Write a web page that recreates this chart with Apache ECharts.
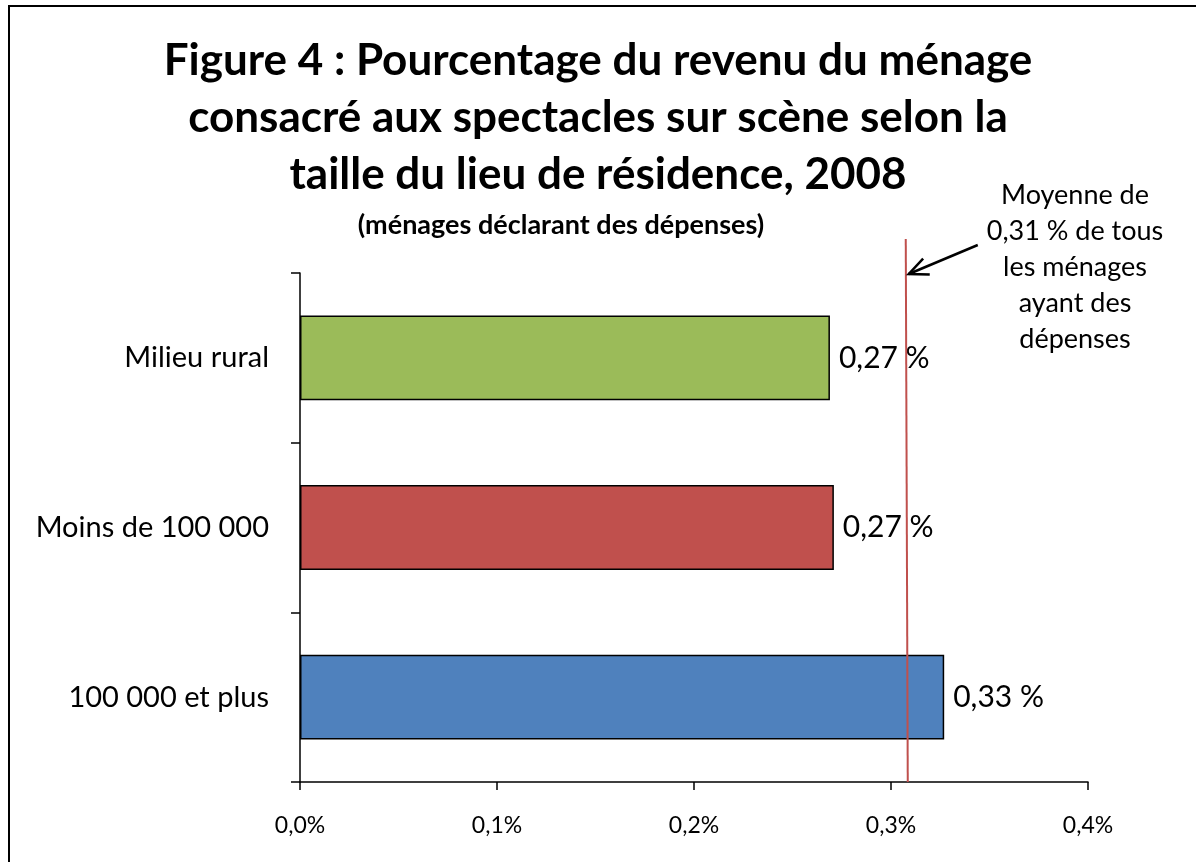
<!DOCTYPE html>
<html>
<head>
<meta charset="utf-8">
<script src="https://cdn.jsdelivr.net/npm/echarts@6/dist/echarts.min.js"></script>
<style>
  html, body { margin: 0; padding: 0; background: #fff; }
  #chart { width: 1196px; height: 862px; }
</style>
</head>
<body>
<div id="chart"></div>
<script>
// categories, bottom to top (category y axis starts at the bottom)
const categories = ['100 000 et plus', 'Moins de 100 000', 'Milieu rural'];
const values = [0.327, 0.271, 0.269];
const valueLabels = ['0,33 %', '0,27 %', '0,27 %'];
const barColors = ['#4F81BD', '#C0504D', '#9BBB59'];
const xTickLabels = ['0,0%', '0,1%', '0,2%', '0,3%', '0,4%'];
// position of the hand drawn average line (note says 0,31 %)
const averageValue = 0.308;
const noteLines = ['Moyenne de', '0,31 % de tous', 'les ménages', 'ayant des', 'dépenses'];

const FONT = 'Lato, "Open Sans", sans-serif';

const chart = echarts.init(document.getElementById('chart'), null, { renderer: 'canvas' });

const option = {
  backgroundColor: '#fff',
  animation: false,
  title: [
    {
      text: 'Figure 4 : Pourcentage du revenu du ménage\nconsacré aux spectacles sur scène selon la\ntaille du lieu de résidence, 2008',
      left: 'center',
      top: 27,
      textStyle: { fontFamily: FONT, fontWeight: 'bold', fontSize: 44, lineHeight: 57, color: '#000' }
    },
    {
      // subtitle sits a little left of the main title's centre
      text: '(ménages déclarant des dépenses)',
      left: 556,
      textAlign: 'center',
      top: 205,
      textStyle: { fontFamily: FONT, fontWeight: 'bold', fontSize: 27, lineHeight: 30, color: '#000' }
    }
  ],
  grid: { left: 300, top: 273, right: 108, bottom: 80, containLabel: false },
  xAxis: {
    type: 'value',
    min: 0,
    max: 0.4,
    interval: 0.1,
    splitLine: { show: false },
    axisLine: { show: true, lineStyle: { color: '#000', width: 1.5 } },
    axisTick: { show: true, length: 8, lineStyle: { color: '#000', width: 1.5 } },
    axisLabel: {
      fontFamily: FONT, fontSize: 23, color: '#000', margin: 32,
      formatter: (v) => xTickLabels[Math.round(v * 10)]
    }
  },
  yAxis: {
    type: 'category',
    data: categories,
    axisLine: { show: true, lineStyle: { color: '#000', width: 1.5 } },
    axisTick: { show: true, length: 9, alignWithLabel: false, lineStyle: { color: '#000', width: 1.5 } },
    axisLabel: { fontFamily: FONT, fontSize: 29, color: '#000', margin: 31 }
  },
  series: [{
    type: 'bar',
    barCategoryGap: '50%',
    data: values.map((v, i) => ({ value: v, itemStyle: { color: barColors[i] } })),
    itemStyle: { borderColor: '#000', borderWidth: 1.5 },
    label: {
      show: true,
      position: 'right',
      distance: 9,
      fontFamily: FONT,
      fontSize: 30,
      color: '#000',
      formatter: (p) => valueLabels[p.dataIndex]
    }
  }]
};

chart.setOption(option);

// average line, arrow and note, placed through the axis scales
const lineX = chart.convertToPixel({ xAxisIndex: 0 }, averageValue);
const lineTop = 239, lineBottom = 782;
const tipX = lineX + 2, tipY = 274;
const tailX = lineX + 71, tailY = 245;
const ang = Math.atan2(tailY - tipY, tailX - tipX);
const headLen = 21, headSpread = 0.42;
const head = [
  [tipX + headLen * Math.cos(ang + headSpread), tipY + headLen * Math.sin(ang + headSpread)],
  [tipX, tipY],
  [tipX + headLen * Math.cos(ang - headSpread), tipY + headLen * Math.sin(ang - headSpread)]
];

chart.setOption({
  graphic: [
    {
      type: 'rect', silent: true,
      shape: { x: 9, y: 6, width: 1200, height: 880 },
      style: { fill: 'none', stroke: '#000', lineWidth: 2 }
    },
    {
      type: 'line', silent: true, z: 10,
      shape: { x1: lineX - 1, y1: lineTop, x2: lineX + 1, y2: lineBottom },
      style: { stroke: '#C0504D', lineWidth: 2 }
    },
    {
      type: 'line', silent: true, z: 10,
      shape: { x1: tailX, y1: tailY, x2: tipX, y2: tipY },
      style: { stroke: '#000', lineWidth: 2.5 }
    },
    {
      type: 'polyline', silent: true, z: 10,
      shape: { points: head },
      style: { stroke: '#000', lineWidth: 2.5, fill: 'none' }
    },
    {
      type: 'text', silent: true, z: 10,
      x: 1075, y: 177,
      style: {
        text: noteLines.join('\n'),
        fontFamily: FONT, fontSize: 27, lineHeight: 36,
        fill: '#000', align: 'center', verticalAlign: 'top'
      }
    }
  ]
});
</script>
</body>
</html>
